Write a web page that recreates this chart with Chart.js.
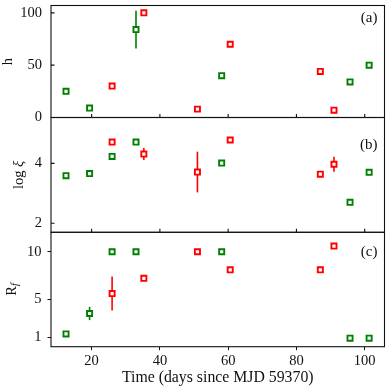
<!DOCTYPE html>
<html>
<head>
<meta charset="utf-8">
<script src="https://cdn.jsdelivr.net/npm/chart.js@4.4.1/dist/chart.umd.min.js"></script>
<style>
  html, body { margin: 0; padding: 0; background: #fff; }
  #wrap { position: relative; width: 390px; height: 390px; }
  #wrap canvas { position: absolute; left: 0; top: 0; }
</style>
</head>
<body>
<div id="wrap">
  <canvas id="chA" width="390" height="390"></canvas>
  <canvas id="chB" width="390" height="390"></canvas>
  <canvas id="chC" width="390" height="390"></canvas>
</div>
<script>
// time axis (days since MJD 59370)
const xTicks = [20, 40, 60, 80, 100];

// panel (a): h
const hGreenT = [12.5, 19.4, 33, 58.1, 95.7, 101.3];
const hGreen = [25, 9, 84, 40, 34, 50];
const hGreenErr = [0, 0, 18, 0, 0, 0];
const hRedT = [26, 35.3, 51, 60.6, 87, 91];
const hRed = [30, 100, 8, 70, 44, 7];
const hTicks = [0, 50, 100];

// panel (b): log xi
const xiGreenT = [12.5, 19.4, 26, 33, 58.1, 95.7, 101.3];
const xiGreen = [3.59, 3.66, 4.23, 4.71, 4.01, 2.70, 3.70];
const xiRedT = [26, 35.3, 51, 60.6, 87, 91];
const xiRed = [4.71, 4.31, 3.71, 4.78, 3.64, 3.97];
const xiRedErr = [0, 0.2, 0.68, 0, 0, 0.25];
const xiTicks = [2, 4];

// panel (c): R_f
const rfGreenT = [12.5, 19.4, 26, 33, 58.1, 95.7, 101.3];
const rfGreen = [1.35, 3.5, 10, 10, 10, 0.9, 0.9];
const rfGreenErr = [0, 0.7, 0, 0, 0, 0, 0];
const rfRedT = [26, 35.3, 51, 60.6, 87, 91];
const rfRed = [5.6, 7.2, 10, 8.1, 8.1, 10.6];
const rfRedErr = [1.8, 0, 0, 0, 0, 0];
const rfTicks = [1, 5, 10];

const GREEN = '#008000';
const RED = '#ff0000';
const INK = '#111';
const FAMILY = '"Liberation Serif", "DejaVu Serif", serif';
const FS = 14.5;

function series(t, y, err, color) {
  return {
    data: t.map((x, i) => ({ x: x, y: y[i], err: err ? err[i] : 0 })),
    pointStyle: 'rect',
    pointRadius: 3.6,
    pointHoverRadius: 3.6,
    borderWidth: 1.9,
    borderColor: color,
    backgroundColor: '#fff',
    showLine: false
  };
}

function drawYLabel(ctx, parts, cx, cy) {
  ctx.save();
  ctx.translate(cx, cy);
  ctx.rotate(-Math.PI / 2);
  ctx.textBaseline = 'middle';
  ctx.textAlign = 'left';
  ctx.fillStyle = INK;
  let total = 0;
  parts.forEach(p => { ctx.font = p.font; total += ctx.measureText(p.text).width; });
  let x = -total / 2;
  parts.forEach(p => {
    ctx.font = p.font;
    ctx.fillText(p.text, x, p.dy || 0);
    x += ctx.measureText(p.text).width;
  });
  ctx.restore();
}

const panelPlugin = {
  id: 'panel',
  beforeDatasetsDraw(chart) {
    // vertical error bars, behind the markers
    const ctx = chart.ctx;
    const xs = chart.scales.x, ys = chart.scales.y;
    chart.data.datasets.forEach(ds => {
      ctx.save();
      ctx.strokeStyle = ds.borderColor;
      ctx.lineWidth = 1.6;
      ds.data.forEach(p => {
        if (!p.err) return;
        const px = xs.getPixelForValue(p.x);
        ctx.beginPath();
        ctx.moveTo(px, ys.getPixelForValue(p.y - p.err));
        ctx.lineTo(px, ys.getPixelForValue(p.y + p.err));
        ctx.stroke();
      });
      ctx.restore();
    });
  },
  afterDraw(chart, args, opts) {
    const ctx = chart.ctx;
    const a = chart.chartArea;
    ctx.save();
    ctx.strokeStyle = INK;
    ctx.lineWidth = 1.1;
    ctx.strokeRect(a.left, a.top, a.right - a.left, a.bottom - a.top);
    if (opts.inward) {
      ctx.beginPath();
      chart.scales.x.ticks.forEach(t => {
        const px = chart.scales.x.getPixelForValue(t.value);
        ctx.moveTo(px, a.bottom);
        ctx.lineTo(px, a.bottom - 3.5);
      });
      chart.scales.y.ticks.forEach(t => {
        const py = chart.scales.y.getPixelForValue(t.value);
        ctx.moveTo(a.left, py);
        ctx.lineTo(a.left + 3.5, py);
      });
      ctx.stroke();
    }
    ctx.font = '15px ' + FAMILY;
    ctx.fillStyle = INK;
    ctx.textAlign = 'right';
    ctx.textBaseline = 'middle';
    ctx.fillText(opts.tag, a.right - 7, a.top + opts.tagY * (a.bottom - a.top));
    ctx.restore();
    drawYLabel(ctx, opts.label, opts.labelX, (a.top + a.bottom) / 2);
  }
};

function makePanel(id, p) {
  const last = !!p.xTitle;
  return new Chart(document.getElementById(id), {
    type: 'scatter',
    data: { datasets: p.datasets },
    options: {
      responsive: false,
      animation: false,
      events: [],
      layout: { padding: { top: p.top, bottom: p.bottom, left: 0, right: 4.3 } },
      plugins: {
        legend: { display: false },
        tooltip: { enabled: false },
        panel: { inward: !last, tag: p.tag, tagY: p.tagY, label: p.label, labelX: p.labelX }
      },
      scales: {
        x: {
          type: 'linear',
          min: 8.1,
          max: 105.8,
          afterBuildTicks: s => { s.ticks = xTicks.map(v => ({ value: v })); },
          afterFit: s => { s.height = last ? 43.3 : 0; s.paddingLeft = 0; s.paddingRight = 0; },
          border: { display: false },
          grid: last
            ? { drawOnChartArea: false, drawTicks: true, tickLength: 3.5, color: INK, lineWidth: 1 }
            : { display: false, drawTicks: false },
          ticks: { display: last, color: INK, font: { family: FAMILY, size: FS }, padding: 2.5, maxRotation: 0 },
          title: {
            display: last,
            text: p.xTitle || '',
            color: INK,
            font: { family: FAMILY, size: 15.8 },
            padding: { top: 0, bottom: 2.6 }
          }
        },
        y: {
          type: 'linear',
          min: p.yMin,
          max: p.yMax,
          afterBuildTicks: s => { s.ticks = p.yTicks.map(v => ({ value: v })); },
          afterFit: s => { s.width = 51; s.paddingTop = 0; s.paddingBottom = 0; },
          border: { display: false },
          grid: last
            ? { drawOnChartArea: false, drawTicks: true, tickLength: 3.5, color: INK, lineWidth: 1 }
            : { display: false, drawTicks: false },
          ticks: { color: INK, font: { family: FAMILY, size: FS }, padding: last ? 6 : 9 }
        }
      }
    },
    plugins: [panelPlugin]
  });
}

const upright = FS + 'px ' + FAMILY;
const italic = 'italic ' + FS + 'px ' + FAMILY;

makePanel('chA', {
  top: 3.5, bottom: 272.5,
  yMin: 0, yMax: 107, yTicks: hTicks,
  tag: '(a)', tagY: 0.116,
  label: [{ text: 'h', font: upright }], labelX: 8,
  datasets: [series(hGreenT, hGreen, hGreenErr, GREEN), series(hRedT, hRed, null, RED)]
});

makePanel('chB', {
  top: 117.5, bottom: 157.7,
  yMin: 1.7, yMax: 5.53, yTicks: xiTicks,
  tag: '(b)', tagY: 0.24,
  label: [{ text: 'log ', font: upright }, { text: 'ξ', font: italic }], labelX: 19,
  datasets: [series(xiGreenT, xiGreen, null, GREEN), series(xiRedT, xiRed, xiRedErr, RED)]
});

makePanel('chC', {
  top: 232.3, bottom: 0,
  yMin: 0, yMax: 12.05, yTicks: rfTicks,
  tag: '(c)', tagY: 0.17,
  label: [{ text: 'R', font: upright }, { text: 'f', font: 'italic 10.5px ' + FAMILY, dy: 3.5 }], labelX: 12,
  xTitle: 'Time (days since MJD 59370)',
  datasets: [series(rfGreenT, rfGreen, rfGreenErr, GREEN), series(rfRedT, rfRed, rfRedErr, RED)]
});
</script>
</body>
</html>
